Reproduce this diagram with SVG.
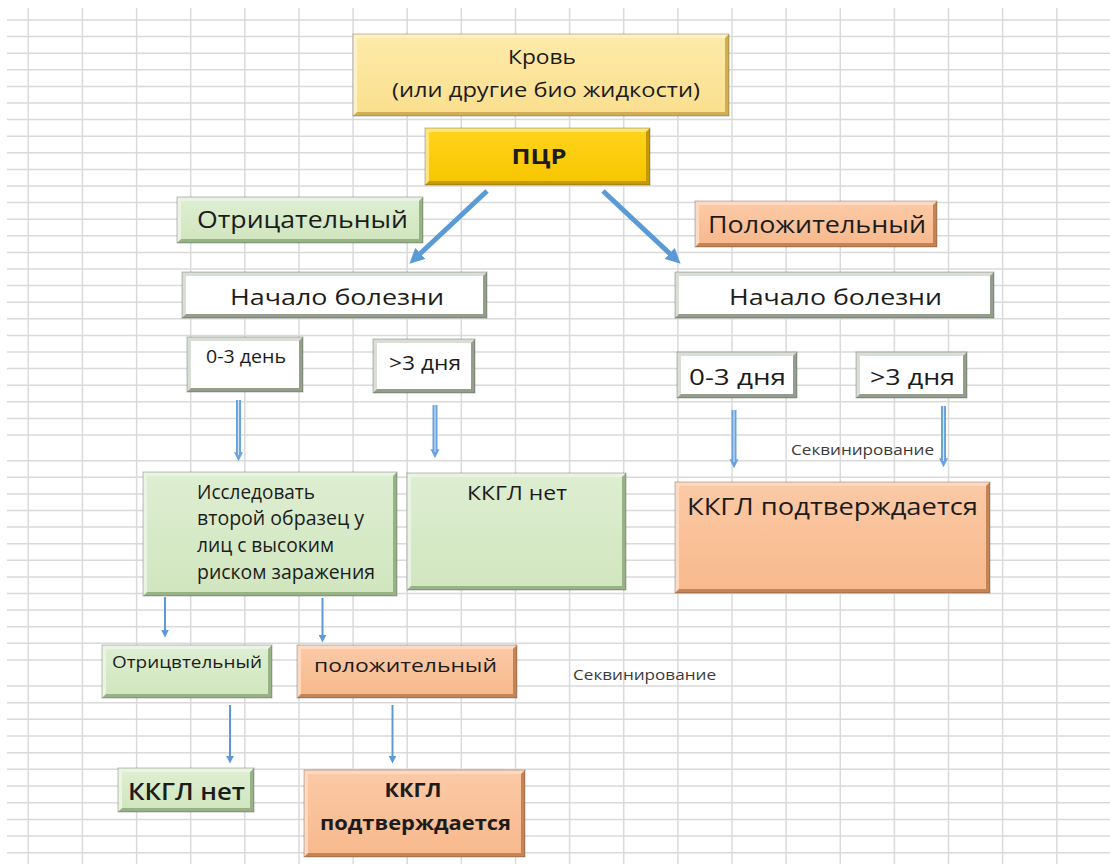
<svg xmlns="http://www.w3.org/2000/svg" width="1110" height="864" viewBox="0 0 1110 864">
  <style>
    text { font-family: "Open Sans", "Liberation Sans", sans-serif; fill: #1c1c1c; }
    .grid { stroke: #dadada; stroke-width: 1.5; fill: none; }
    .frame { fill: none; stroke: #000; stroke-opacity: 0.25; stroke-width: 1; }
    .y-d { fill: #cfae55; } .y-l { fill: #fff1c4; } .y-f { fill: url(#gYellow); }
    .o-d { fill: #c49a00; } .o-l { fill: #ffe57a; } .o-f { fill: url(#gGold); }
    .g-d { fill: #97b386; } .g-l { fill: #eaf4e2; } .g-f { fill: url(#gGreen); }
    .s-d { fill: #c38558; } .s-l { fill: #fdd9c0; } .s-f { fill: url(#gSalmon); }
    .w-d { fill: #939f8c; } .w-l { fill: #d9dfd5; } .w-f { fill: #ffffff; }
    .thick { stroke: #5b9bd5; stroke-width: 5; fill: none; }
    .dbl { stroke: #6aa3dc; stroke-width: 5; fill: none; }
    .dbl-in { stroke: #d3e4f5; stroke-width: 1.1; fill: none; }
    .thin { stroke: #5b9bd5; stroke-width: 2; fill: none; }
    .note { fill: #3a3a3a; font-size: 14px; }
  </style>
  <defs>
    <linearGradient id="gYellow" x1="0" y1="0" x2="0" y2="1">
      <stop offset="0" stop-color="#fdeaa9"/><stop offset="1" stop-color="#fadf8e"/>
    </linearGradient>
    <linearGradient id="gGold" x1="0" y1="0" x2="0" y2="1">
      <stop offset="0" stop-color="#ffd31c"/><stop offset="1" stop-color="#f7c600"/>
    </linearGradient>
    <linearGradient id="gGreen" x1="0" y1="0" x2="0" y2="1">
      <stop offset="0" stop-color="#ddeed1"/><stop offset="1" stop-color="#d1e6bf"/>
    </linearGradient>
    <linearGradient id="gSalmon" x1="0" y1="0" x2="0" y2="1">
      <stop offset="0" stop-color="#fbc9a5"/><stop offset="1" stop-color="#f8b98d"/>
    </linearGradient>
    <marker id="headBig" viewBox="0 0 10 10" refX="4" refY="5" markerUnits="userSpaceOnUse" markerWidth="15" markerHeight="15" orient="auto">
      <path d="M0,0 L10,5 L0,10 Z" fill="#5b9bd5"/>
    </marker>
    <marker id="headDbl" viewBox="0 0 10 10" refX="3" refY="5" markerUnits="userSpaceOnUse" markerWidth="9" markerHeight="10" orient="auto">
      <path d="M0,0 L10,5 L0,10 Z" fill="#6aa3dc"/>
    </marker>
    <marker id="headThin" viewBox="0 0 10 10" refX="3" refY="5" markerUnits="userSpaceOnUse" markerWidth="8" markerHeight="8" orient="auto">
      <path d="M0,0 L10,5 L0,10 Z" fill="#5b9bd5"/>
    </marker>
  </defs>

  <rect width="1110" height="864" fill="#ffffff"/>

  <!-- spreadsheet grid -->
  <g id="grid">
    <path class="grid" d="M28.3,8V864 M82.4,8V864 M136.6,8V864 M190.7,8V864 M244.8,8V864 M299,8V864 M353.1,8V864 M407.2,8V864 M461.3,8V864 M515.5,8V864 M569.6,8V864 M623.7,8V864 M677.9,8V864 M732,8V864 M786.1,8V864 M840.3,8V864 M894.4,8V864 M948.5,8V864 M1002.6,8V864 M1056.8,8V864"/>
    <path class="grid" d="M7,20H1110 M7,36.6H1110 M7,53.2H1110 M7,69.8H1110 M7,86.4H1110 M7,103H1110 M7,119.6H1110 M7,136.2H1110 M7,152.8H1110 M7,169.4H1110 M7,186H1110 M7,202.6H1110 M7,219.2H1110 M7,235.8H1110 M7,252.4H1110 M7,269H1110 M7,285.6H1110 M7,302.2H1110 M7,318.8H1110 M7,335.4H1110 M7,352H1110 M7,368.6H1110 M7,385.2H1110 M7,401.8H1110 M7,418.4H1110 M7,435H1110
      M7,460.7H1110 M7,477.3H1110 M7,493.9H1110 M7,510.5H1110 M7,527.1H1110 M7,543.7H1110 M7,560.3H1110 M7,576.9H1110 M7,593.5H1110 M7,610.1H1110 M7,626.7H1110 M7,643.3H1110 M7,659.9H1110
      M7,686H1110 M7,702.7H1110 M7,719.3H1110 M7,736H1110 M7,752.7H1110 M7,769.3H1110 M7,786H1110 M7,802.7H1110 M7,819.4H1110 M7,836H1110 M7,852.7H1110"/>
  </g>

  <!-- connectors -->
  <g id="connectors">
    <line class="thick" x1="487" y1="191" x2="416" y2="257.5" marker-end="url(#headBig)"/>
    <line class="thick" x1="603" y1="191" x2="674" y2="257.5" marker-end="url(#headBig)"/>

    <g marker-end="url(#headDbl)">
      <line class="dbl" x1="238.5" y1="400" x2="238.5" y2="455"/>
      <line class="dbl" x1="435" y1="405" x2="435" y2="452"/>
      <line class="dbl" x1="734" y1="410" x2="734" y2="462"/>
      <line class="dbl" x1="943.5" y1="406" x2="943.5" y2="461"/>
    </g>
    <line class="dbl-in" x1="238.5" y1="400" x2="238.5" y2="455"/>
    <line class="dbl-in" x1="435" y1="405" x2="435" y2="452"/>
    <line class="dbl-in" x1="734" y1="410" x2="734" y2="462"/>
    <line class="dbl-in" x1="943.5" y1="406" x2="943.5" y2="461"/>

    <g marker-end="url(#headThin)">
      <line class="thin" x1="165" y1="597" x2="165" y2="632"/>
      <line class="thin" x1="322.5" y1="598" x2="322.5" y2="637"/>
      <line class="thin" x1="230" y1="705" x2="230" y2="758"/>
      <line class="thin" x1="392.5" y1="705" x2="392.5" y2="758"/>
    </g>
  </g>

  <!-- Кровь -->
  <g id="blood">
    <rect class="y-d" x="353" y="34" width="376" height="82"/>
    <path class="y-l" d="M353,34H729L725,38H357V112L353,116Z"/>
    <rect class="y-f" x="357" y="38" width="368" height="74"/>
    <rect class="frame" x="353" y="34" width="376" height="82"/>
    <text x="542" y="64" font-size="20" text-anchor="middle" textLength="68" lengthAdjust="spacingAndGlyphs">Кровь</text>
    <text x="546" y="96.5" font-size="20" text-anchor="middle" textLength="308" lengthAdjust="spacingAndGlyphs">(или другие био жидкости)</text>
  </g>

  <!-- ПЦР -->
  <g id="pcr">
    <rect class="o-d" x="425" y="128" width="225" height="57"/>
    <path class="o-l" d="M425,128H650L646,132H429V181L425,185Z"/>
    <rect class="o-f" x="429" y="132" width="217" height="49"/>
    <rect class="frame" x="425" y="128" width="225" height="57"/>
    <text x="539" y="163.5" font-size="22" font-weight="bold" text-anchor="middle" textLength="55" lengthAdjust="spacingAndGlyphs">ПЦР</text>
  </g>

  <!-- Отрицательный -->
  <g id="neg">
    <rect class="g-d" x="177" y="197" width="246" height="46"/>
    <path class="g-l" d="M177,197H423L419,201H181V239L177,243Z"/>
    <rect class="g-f" x="181" y="201" width="238" height="38"/>
    <rect class="frame" x="177" y="197" width="246" height="46"/>
    <text x="197" y="228" font-size="23" textLength="211" lengthAdjust="spacingAndGlyphs">Отрицательный</text>
  </g>

  <!-- Положительный -->
  <g id="pos">
    <rect class="s-d" x="695" y="201" width="242" height="46"/>
    <path class="s-l" d="M695,201H937L933,205H699V243L695,247Z"/>
    <rect class="s-f" x="699" y="205" width="234" height="38"/>
    <rect class="frame" x="695" y="201" width="242" height="46"/>
    <text x="708" y="233" font-size="23" textLength="218" lengthAdjust="spacingAndGlyphs">Положительный</text>
  </g>

  <!-- Начало болезни (отрицательный) -->
  <g id="onset-neg">
    <rect class="w-d" x="182" y="272" width="305" height="46"/>
    <path class="w-l" d="M182,272H487L483,276H186V314L182,318Z"/>
    <rect class="w-f" x="186" y="276" width="297" height="38"/>
    <rect class="frame" x="182" y="272" width="305" height="46"/>
    <text x="230" y="305" font-size="22" textLength="214" lengthAdjust="spacingAndGlyphs">Начало болезни</text>
  </g>

  <!-- Начало болезни (положительный) -->
  <g id="onset-pos">
    <rect class="w-d" x="675" y="272" width="319" height="46"/>
    <path class="w-l" d="M675,272H994L990,276H679V314L675,318Z"/>
    <rect class="w-f" x="679" y="276" width="311" height="38"/>
    <rect class="frame" x="675" y="272" width="319" height="46"/>
    <text x="729" y="305" font-size="22" textLength="213" lengthAdjust="spacingAndGlyphs">Начало болезни</text>
  </g>

  <!-- 0-3 день -->
  <g id="neg-early">
    <rect class="w-d" x="187" y="337" width="116" height="55"/>
    <path class="w-l" d="M187,337H303L299,341H191V388L187,392Z"/>
    <rect class="w-f" x="191" y="341" width="108" height="47"/>
    <rect class="frame" x="187" y="337" width="116" height="55"/>
    <text x="206" y="363" font-size="18" textLength="80" lengthAdjust="spacingAndGlyphs">0-3 день</text>
  </g>

  <!-- >3 дня -->
  <g id="neg-late">
    <rect class="w-d" x="373" y="339" width="102" height="54"/>
    <path class="w-l" d="M373,339H475L471,343H377V389L373,393Z"/>
    <rect class="w-f" x="377" y="343" width="94" height="46"/>
    <rect class="frame" x="373" y="339" width="102" height="54"/>
    <text x="389" y="370" font-size="20" textLength="72" lengthAdjust="spacingAndGlyphs">&gt;3 дня</text>
  </g>

  <!-- 0-3 дня -->
  <g id="pos-early">
    <rect class="w-d" x="677" y="352" width="120" height="46"/>
    <path class="w-l" d="M677,352H797L793,356H681V394L677,398Z"/>
    <rect class="w-f" x="681" y="356" width="112" height="38"/>
    <rect class="frame" x="677" y="352" width="120" height="46"/>
    <text x="689" y="384.5" font-size="22" textLength="97" lengthAdjust="spacingAndGlyphs">0-3 дня</text>
  </g>

  <!-- >3 дня -->
  <g id="pos-late">
    <rect class="w-d" x="856" y="352" width="111" height="46"/>
    <path class="w-l" d="M856,352H967L963,356H860V394L856,398Z"/>
    <rect class="w-f" x="860" y="356" width="103" height="38"/>
    <rect class="frame" x="856" y="352" width="111" height="46"/>
    <text x="870" y="384.5" font-size="22" textLength="85" lengthAdjust="spacingAndGlyphs">&gt;3 дня</text>
  </g>

  <!-- Исследовать второй образец -->
  <g id="retest">
    <rect class="g-d" x="143" y="472" width="254" height="124"/>
    <path class="g-l" d="M143,472H397L393,476H147V592L143,596Z"/>
    <rect class="g-f" x="147" y="476" width="246" height="116"/>
    <rect class="frame" x="143" y="472" width="254" height="124"/>
    <text x="197" y="498.5" font-size="20" textLength="118" lengthAdjust="spacingAndGlyphs">Исследовать</text>
    <text x="197" y="525" font-size="20" textLength="167" lengthAdjust="spacingAndGlyphs">второй образец у</text>
    <text x="197" y="552" font-size="20" textLength="137" lengthAdjust="spacingAndGlyphs">лиц с высоким</text>
    <text x="197" y="578.5" font-size="20" textLength="178" lengthAdjust="spacingAndGlyphs">риском заражения</text>
  </g>

  <!-- ККГЛ нет (>3 дня) -->
  <g id="no-cchf-late">
    <rect class="g-d" x="407" y="473" width="219" height="117"/>
    <path class="g-l" d="M407,473H626L622,477H411V586L407,590Z"/>
    <rect class="g-f" x="411" y="477" width="211" height="109"/>
    <rect class="frame" x="407" y="473" width="219" height="117"/>
    <text x="467" y="499.5" font-size="20" font-weight="500" textLength="100" lengthAdjust="spacingAndGlyphs">ККГЛ нет</text>
  </g>

  <!-- ККГЛ подтверждается (положительный) -->
  <g id="cchf-confirmed">
    <rect class="s-d" x="675" y="482" width="315" height="111"/>
    <path class="s-l" d="M675,482H990L986,486H679V589L675,593Z"/>
    <rect class="s-f" x="679" y="486" width="307" height="103"/>
    <rect class="frame" x="675" y="482" width="315" height="111"/>
    <text x="687" y="515" font-size="24" textLength="291" lengthAdjust="spacingAndGlyphs">ККГЛ подтверждается</text>
  </g>

  <text class="note" x="791" y="455" textLength="143" lengthAdjust="spacingAndGlyphs">Секвинирование</text>

  <!-- Отрицвтельный (повторный) -->
  <g id="retest-neg">
    <rect class="g-d" x="102" y="645" width="170" height="53"/>
    <path class="g-l" d="M102,645H272L268,649H106V694L102,698Z"/>
    <rect class="g-f" x="106" y="649" width="162" height="45"/>
    <rect class="frame" x="102" y="645" width="170" height="53"/>
    <text x="112" y="667.5" font-size="16" textLength="150" lengthAdjust="spacingAndGlyphs">Отрицвтельный</text>
  </g>

  <!-- положительный (повторный) -->
  <g id="retest-pos">
    <rect class="s-d" x="297" y="645" width="220" height="53"/>
    <path class="s-l" d="M297,645H517L513,649H301V694L297,698Z"/>
    <rect class="s-f" x="301" y="649" width="212" height="45"/>
    <rect class="frame" x="297" y="645" width="220" height="53"/>
    <text x="314" y="671.5" font-size="19" textLength="183" lengthAdjust="spacingAndGlyphs">положительный</text>
  </g>

  <text class="note" x="573" y="680" textLength="143" lengthAdjust="spacingAndGlyphs">Секвинирование</text>

  <!-- ККГЛ нет (повторный) -->
  <g id="no-cchf-retest">
    <rect class="g-d" x="118" y="768" width="136" height="44"/>
    <path class="g-l" d="M118,768H254L250,772H122V808L118,812Z"/>
    <rect class="g-f" x="122" y="772" width="128" height="36"/>
    <rect class="frame" x="118" y="768" width="136" height="44"/>
    <text x="128" y="800" font-size="24" font-weight="600" textLength="117" lengthAdjust="spacingAndGlyphs">ККГЛ нет</text>
  </g>

  <!-- ККГЛ подтверждается (повторный) -->
  <g id="cchf-confirmed-retest">
    <rect class="s-d" x="304" y="770" width="221" height="87"/>
    <path class="s-l" d="M304,770H525L521,774H308V853L304,857Z"/>
    <rect class="s-f" x="308" y="774" width="213" height="79"/>
    <rect class="frame" x="304" y="770" width="221" height="87"/>
    <text x="413" y="797" font-size="20" font-weight="bold" text-anchor="middle" textLength="57" lengthAdjust="spacingAndGlyphs">ККГЛ</text>
    <text x="320" y="830" font-size="20" font-weight="bold" textLength="191" lengthAdjust="spacingAndGlyphs">подтверждается</text>
  </g>
</svg>
